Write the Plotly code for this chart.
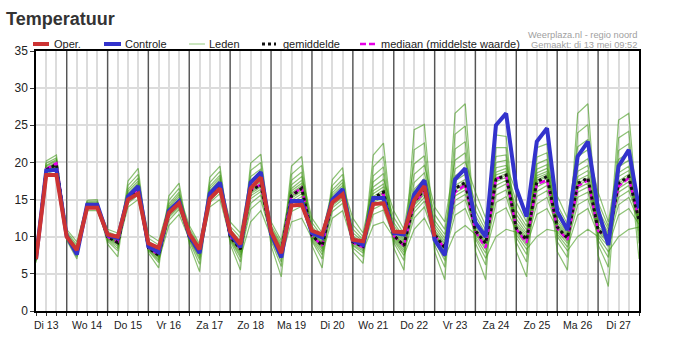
import pandas as pd
import plotly.graph_objects as go

# Tijdstappen van de pluim: elke 6 uur vanaf di 13 mei 06:00
tijden = pd.date_range("2025-05-13 06:00", periods=60, freq="6h")

dag_labels = ["Di 13", "Wo 14", "Do 15", "Vr 16", "Za 17", "Zo 18", "Ma 19", "Di 20",
              "Wo 21", "Do 22", "Vr 23", "Za 24", "Zo 25", "Ma 26", "Di 27"]
label_momenten = pd.date_range("2025-05-13 12:00", periods=len(dag_labels), freq="D")
dag_grenzen = pd.date_range("2025-05-14 00:00", periods=14, freq="D")

# Operationele run (10 dagen)
oper = [7.0, 18.3, 18.3, 10.0, 8.2, 13.9, 13.9, 10.3, 10.0, 15.0,
        15.8, 9.1, 8.5, 13.2, 14.5, 10.4, 8.3, 15.1, 16.5, 10.7,
        9.0, 16.5, 18.0, 10.7, 7.8, 14.2, 14.3, 10.8, 10.3, 14.6,
        15.7, 9.6, 9.4, 14.4, 14.5, 10.7, 10.6, 14.9, 16.8, 10.0]

# Controlerun
controle = [7.0, 18.9, 19.0, 10.1, 7.6, 14.3, 14.3, 10.2, 9.8, 15.4,
            16.8, 8.7, 7.9, 13.5, 14.8, 10.2, 7.8, 15.8, 17.3, 10.4,
            8.6, 17.3, 18.7, 10.4, 7.2, 14.8, 14.8, 10.5, 9.9, 15.0,
            16.4, 9.5, 8.9, 15.2, 15.2, 10.5, 10.3, 15.7, 17.6, 9.6,
            7.5, 17.7, 19.2, 11.9, 10.0, 25.0, 26.6, 16.5, 12.7, 22.8,
            24.6, 13.4, 10.9, 20.8, 22.8, 13.6, 8.9, 19.5, 21.7, 13.8]

gemiddelde = [7.0, 19.0, 19.7, 10.0, 7.8, 14.2, 14.2, 10.0, 9.2, 15.2,
              16.5, 8.5, 7.5, 13.3, 14.7, 10.0, 7.9, 15.5, 17.0, 10.0,
              8.3, 16.2, 17.0, 10.3, 8.0, 15.5, 16.5, 10.2, 8.8, 14.8,
              16.0, 9.3, 8.7, 15.2, 16.0, 10.2, 8.8, 14.8, 16.3, 10.3,
              8.5, 16.5, 17.3, 10.8, 9.1, 17.7, 18.3, 11.1, 9.6, 17.4,
              18.1, 11.3, 9.8, 17.2, 17.9, 10.9, 9.8, 17.2, 18.1, 12.2]

mediaan = [7.0, 19.1, 19.9, 10.0, 7.7, 14.2, 14.2, 10.0, 9.3, 15.2,
           16.4, 8.5, 7.6, 13.3, 14.6, 10.0, 8.0, 15.4, 16.9, 10.0,
           8.4, 16.3, 17.0, 10.2, 8.1, 15.6, 16.6, 10.1, 8.8, 14.8,
           15.9, 9.2, 8.6, 15.0, 15.8, 10.1, 8.8, 14.6, 16.0, 10.2,
           8.4, 16.0, 17.0, 10.7, 8.5, 17.8, 18.2, 11.0, 9.2, 17.1,
           17.6, 11.1, 9.6, 16.8, 17.6, 10.8, 10.0, 16.8, 17.9, 12.4]

# Ensembleleden: per tijdstap de waarde van elk van de 16 leden
leden_per_tijdstap = [
    [6.5, 6.7, 6.8, 6.9, 6.9, 7.0, 7.0, 7.0, 7.0, 7.1, 7.2, 7.3, 7.4, 7.5, 7.7, 8.0],
    [18.5, 18.7, 18.8, 18.9, 18.9, 19.0, 19.0, 19.0, 19.0, 19.1, 19.2, 19.3, 19.5, 19.6, 19.9, 20.2],
    [19.0, 19.3, 19.4, 19.5, 19.6, 19.6, 19.7, 19.7, 19.8, 19.8, 19.9, 20.0, 20.2, 20.4, 20.6, 21.0],
    [9.9, 9.9, 10.0, 10.0, 10.0, 10.0, 10.1, 10.2, 10.3, 10.4, 10.5, 10.7, 11.0, 9.5, 9.7, 9.8],
    [7.6, 7.7, 7.7, 7.8, 7.8, 7.9, 8.0, 8.1, 8.2, 8.4, 8.6, 8.9, 9.3, 7.0, 7.3, 7.5],
    [13.8, 13.9, 14.0, 14.1, 14.1, 14.2, 14.2, 14.2, 14.3, 14.3, 14.4, 14.5, 14.6, 14.7, 14.9, 13.5],
    [13.8, 13.9, 14.0, 14.1, 14.1, 14.2, 14.2, 14.2, 14.3, 14.3, 14.4, 14.5, 14.6, 14.8, 15.0, 13.5],
    [9.9, 10.0, 10.0, 10.0, 10.1, 10.2, 10.3, 10.4, 10.5, 10.7, 11.0, 9.0, 9.4, 9.6, 9.7, 9.8],
    [9.0, 9.1, 9.2, 9.3, 9.3, 9.4, 9.5, 9.7, 9.9, 10.1, 10.5, 7.3, 8.1, 8.4, 8.7, 8.9],
    [14.7, 14.9, 15.0, 15.1, 15.2, 15.2, 15.3, 15.4, 15.6, 15.8, 16.1, 16.4, 16.9, 17.5, 14.0, 14.5],
    [15.9, 16.1, 16.2, 16.4, 16.4, 16.5, 16.6, 16.8, 17.0, 17.2, 17.5, 17.9, 18.4, 19.2, 15.0, 15.6],
    [8.5, 8.5, 8.6, 8.7, 8.8, 9.0, 9.2, 9.4, 9.8, 10.3, 7.8, 8.1, 8.2, 8.3, 8.4, 8.4],
    [7.4, 7.5, 7.6, 7.7, 7.8, 8.0, 8.2, 8.5, 8.9, 9.4, 5.8, 6.5, 6.8, 7.0, 7.2, 7.3],
    [13.0, 13.1, 13.2, 13.3, 13.4, 13.5, 13.7, 13.9, 14.1, 14.4, 14.9, 15.5, 11.5, 12.2, 12.6, 12.8],
    [14.4, 14.5, 14.6, 14.7, 14.8, 15.0, 15.1, 15.4, 15.7, 16.0, 16.5, 17.2, 13.0, 13.7, 14.0, 14.2],
    [10.0, 10.1, 10.2, 10.3, 10.4, 10.6, 10.8, 11.1, 11.5, 9.0, 9.4, 9.6, 9.7, 9.8, 9.9, 10.0],
    [7.9, 7.9, 8.0, 8.1, 8.2, 8.3, 8.5, 8.7, 9.0, 5.3, 6.3, 6.9, 7.2, 7.5, 7.6, 7.8],
    [15.2, 15.4, 15.4, 15.5, 15.6, 15.8, 15.9, 16.2, 16.5, 16.8, 17.3, 18.0, 14.0, 14.6, 14.9, 15.1],
    [16.7, 16.8, 16.9, 17.0, 17.1, 17.3, 17.4, 17.7, 18.0, 18.3, 18.8, 19.5, 15.0, 15.8, 16.2, 16.5],
    [10.1, 10.2, 10.3, 10.5, 10.8, 11.0, 11.4, 12.0, 9.0, 9.4, 9.6, 9.7, 9.8, 9.9, 10.0, 10.0],
    [8.4, 8.5, 8.7, 8.9, 9.1, 9.4, 9.9, 10.5, 5.5, 6.6, 7.2, 7.5, 7.8, 8.0, 8.2, 8.3],
    [16.0, 16.2, 16.3, 16.6, 16.8, 17.2, 17.6, 18.1, 18.9, 19.9, 12.0, 13.7, 14.5, 15.1, 15.5, 15.8],
    [16.9, 17.0, 17.2, 17.4, 17.7, 18.1, 18.6, 19.1, 20.0, 21.1, 13.5, 14.9, 15.6, 16.1, 16.4, 16.7],
    [10.6, 10.7, 10.9, 11.2, 11.5, 12.0, 8.8, 9.4, 9.7, 9.9, 10.0, 10.2, 10.2, 10.3, 10.4, 10.5],
    [8.3, 8.4, 8.6, 8.8, 9.1, 9.5, 4.6, 6.0, 6.6, 7.1, 7.4, 7.7, 7.9, 8.0, 8.1, 8.2],
    [15.5, 15.7, 15.9, 16.2, 16.5, 17.0, 17.6, 18.4, 19.5, 12.0, 13.4, 14.1, 14.6, 14.9, 15.2, 15.4],
    [16.5, 16.7, 16.9, 17.2, 17.6, 18.1, 18.7, 19.6, 20.8, 12.5, 14.1, 14.9, 15.4, 15.8, 16.1, 16.3],
    [10.6, 10.8, 11.1, 11.4, 11.9, 12.5, 8.8, 9.4, 9.6, 9.8, 10.0, 10.1, 10.1, 10.2, 10.3, 10.4],
    [9.1, 9.2, 9.4, 9.7, 10.0, 10.5, 5.8, 7.0, 7.6, 8.0, 8.3, 8.5, 8.7, 8.8, 8.9, 9.0],
    [14.9, 15.1, 15.3, 15.6, 15.9, 16.3, 16.9, 17.7, 12.5, 13.4, 13.9, 14.2, 14.4, 14.6, 14.7, 14.8],
    [16.1, 16.3, 16.6, 16.9, 17.3, 17.7, 18.4, 19.3, 13.5, 14.5, 15.0, 15.3, 15.6, 15.8, 15.9, 16.0],
    [10.5, 11.0, 11.6, 12.5, 8.0, 8.5, 8.8, 8.9, 9.1, 9.2, 9.2, 9.3, 9.4, 9.6, 9.8, 10.1],
    [9.4, 9.6, 10.0, 10.5, 6.4, 7.3, 7.8, 8.1, 8.3, 8.5, 8.6, 8.7, 8.8, 8.9, 9.0, 9.2],
    [15.8, 16.2, 16.7, 17.4, 18.2, 19.4, 21.0, 11.5, 13.0, 13.7, 14.2, 14.6, 14.8, 15.1, 15.2, 15.4],
    [16.7, 17.1, 17.7, 18.5, 19.4, 20.8, 22.6, 12.0, 13.6, 14.4, 14.9, 15.3, 15.6, 15.8, 16.0, 16.3],
    [11.9, 12.6, 13.5, 8.5, 9.2, 9.5, 9.7, 9.9, 10.0, 10.1, 10.2, 10.3, 10.5, 10.8, 11.1, 11.5],
    [9.9, 10.4, 11.0, 5.5, 6.8, 7.5, 7.9, 8.2, 8.5, 8.7, 8.8, 8.9, 9.0, 9.2, 9.4, 9.6],
    [17.3, 18.4, 19.8, 21.7, 24.4, 11.0, 12.5, 13.3, 13.8, 14.2, 14.4, 14.6, 14.8, 15.2, 15.8, 16.4],
    [18.6, 19.6, 20.9, 22.6, 25.1, 12.5, 14.0, 14.8, 15.3, 15.7, 15.9, 16.1, 16.3, 16.7, 17.2, 17.8],
    [13.0, 14.0, 8.0, 8.9, 9.4, 9.7, 9.9, 10.1, 10.2, 10.3, 10.4, 10.7, 10.9, 11.3, 11.7, 12.2],
    [11.0, 12.0, 4.2, 5.9, 6.8, 7.3, 7.8, 8.1, 8.3, 8.5, 8.6, 8.9, 9.1, 9.4, 9.8, 10.3],
    [19.1, 20.3, 21.8, 23.8, 26.6, 10.5, 12.9, 14.1, 14.9, 15.5, 15.9, 16.3, 16.5, 16.9, 17.5, 18.2],
    [20.1, 21.3, 22.8, 24.9, 27.9, 11.5, 13.8, 15.0, 15.7, 16.3, 16.7, 17.1, 17.3, 17.7, 18.4, 19.1],
    [16.0, 8.0, 9.1, 9.7, 10.0, 10.3, 10.5, 10.7, 10.8, 11.0, 11.3, 11.7, 12.2, 12.8, 13.5, 14.5],
    [12.5, 4.2, 6.2, 7.1, 7.8, 8.3, 8.6, 8.9, 9.1, 9.2, 9.4, 9.7, 10.0, 10.4, 10.9, 11.5],
    [20.8, 22.0, 23.7, 10.0, 13.1, 14.6, 15.6, 16.4, 16.9, 17.4, 17.7, 17.9, 18.3, 18.7, 19.3, 20.0],
    [21.0, 22.0, 23.5, 11.0, 13.9, 15.4, 16.3, 17.1, 17.6, 18.0, 18.3, 18.5, 18.8, 19.2, 19.6, 20.3],
    [9.2, 9.9, 10.3, 10.6, 10.8, 11.0, 11.1, 11.3, 11.6, 11.9, 12.4, 13.0, 13.6, 14.6, 16.0, 8.0],
    [6.6, 7.6, 8.3, 8.8, 9.1, 9.4, 9.6, 9.7, 9.9, 10.2, 10.5, 10.9, 11.4, 12.0, 13.0, 4.6],
    [20.7, 22.0, 10.0, 13.0, 14.4, 15.4, 16.1, 16.7, 17.1, 17.4, 17.6, 17.9, 18.2, 18.6, 19.1, 19.8],
    [21.3, 22.5, 11.0, 13.8, 15.3, 16.2, 16.9, 17.4, 17.8, 18.1, 18.3, 18.5, 18.8, 19.2, 19.7, 20.4],
    [10.0, 10.4, 10.7, 11.0, 11.2, 11.3, 11.5, 11.7, 12.0, 12.4, 12.9, 13.5, 14.3, 15.5, 8.0, 9.3],
    [8.1, 8.6, 9.1, 9.4, 9.6, 9.8, 9.9, 10.1, 10.3, 10.5, 10.8, 11.2, 11.7, 12.5, 5.5, 7.2],
    [10.0, 12.9, 14.3, 15.3, 16.0, 16.5, 16.9, 17.2, 17.6, 18.1, 18.8, 19.6, 20.8, 22.1, 24.0, 26.6],
    [11.0, 13.8, 15.1, 16.0, 16.7, 17.2, 17.6, 17.9, 18.3, 18.9, 19.6, 20.5, 21.7, 23.1, 25.1, 27.9],
    [10.0, 10.3, 10.6, 10.8, 10.9, 11.1, 11.4, 11.8, 12.2, 12.8, 13.6, 14.6, 16.0, 7.5, 8.9, 9.5],
    [8.0, 8.7, 9.2, 9.5, 9.8, 9.9, 10.0, 10.2, 10.4, 10.6, 11.0, 11.4, 12.0, 3.3, 5.9, 7.2],
    [10.0, 12.9, 14.3, 15.3, 16.0, 16.5, 16.9, 17.2, 17.5, 18.1, 18.6, 19.4, 20.4, 21.6, 23.3, 25.7],
    [11.0, 13.8, 15.3, 16.2, 16.9, 17.4, 17.8, 18.1, 18.4, 18.9, 19.5, 20.3, 21.3, 22.5, 24.2, 26.6],
    [11.3, 11.7, 12.0, 12.2, 12.3, 12.4, 12.6, 12.8, 13.0, 13.4, 13.9, 14.5, 7.0, 9.1, 10.1, 10.8],
]

KLEUR_OPER = "#cc3333"
KLEUR_CONTROLE = "#3333cc"
KLEUR_LID = "rgba(58,150,16,0.58)"
KLEUR_LID_LEGENDA = "#a6d492"
KLEUR_MEDIAAN = "#e600e6"
FONT = "Liberation Sans, Arial, sans-serif"

W, H = 677, 349
ML, MR, MT, MB = 36, 38, 51, 38
PW, PH = W - ML - MR, H - MT - MB


def px_x(px):
    return (px - ML) / PW


def px_y(py):
    return (H - MB - py) / PH


fig = go.Figure()

n_leden = len(leden_per_tijdstap[0])
for j in range(n_leden):
    fig.add_trace(go.Scatter(
        x=tijden, y=[rij[j] for rij in leden_per_tijdstap], mode="lines",
        line=dict(color=KLEUR_LID, width=1.2), hoverinfo="skip", showlegend=False))

fig.add_trace(go.Scatter(x=tijden, y=mediaan, mode="lines",
                         line=dict(color=KLEUR_MEDIAAN, width=2.5, dash="6px,3px"),
                         showlegend=False))
fig.add_trace(go.Scatter(x=tijden, y=gemiddelde, mode="lines",
                         line=dict(color="#111111", width=3, dash="dot"),
                         showlegend=False))
fig.add_trace(go.Scatter(x=tijden, y=controle, mode="lines",
                         line=dict(color=KLEUR_CONTROLE, width=4),
                         showlegend=False))
fig.add_trace(go.Scatter(x=tijden[:len(oper)], y=oper, mode="lines",
                         line=dict(color=KLEUR_OPER, width=4),
                         showlegend=False))

# Donkere lijnen op middernacht
for d in dag_grenzen:
    fig.add_shape(type="line", xref="x", yref="y", x0=d, x1=d, y0=0, y1=35,
                  line=dict(color="#555555", width=1.3), layer="between")

# Legenda boven de grafiek
legenda = [
    ("Oper.", dict(color=KLEUR_OPER, width=4), 33, 49, 52),
    ("Controle", dict(color=KLEUR_CONTROLE, width=4), 104, 121, 123),
    ("Leden", dict(color=KLEUR_LID_LEGENDA, width=1.2), 189, 205, 207),
    ("gemiddelde", dict(color="#111111", width=3, dash="dot"), 262, 276, 281),
    ("mediaan (middelste waarde)", dict(color=KLEUR_MEDIAAN, width=2.5, dash="6px,3px"), 360, 376, 379),
]
for tekst, lijn, x0, x1, xt in legenda:
    fig.add_shape(type="line", xref="paper", yref="paper",
                  x0=px_x(x0), x1=px_x(x1), y0=px_y(44), y1=px_y(44), line=lijn)
    fig.add_annotation(text=tekst, xref="paper", yref="paper", x=px_x(xt), y=px_y(44),
                       xanchor="left", yanchor="middle", showarrow=False,
                       font=dict(family=FONT, size=11, color="#222222"))

fig.add_annotation(text="<b>Temperatuur</b>", xref="paper", yref="paper",
                   x=px_x(4), y=px_y(18.5), xanchor="left", yanchor="middle",
                   showarrow=False, font=dict(family=FONT, size=18, color="#333333"))
fig.add_annotation(text="Weerplaza.nl - regio noord", xref="paper", yref="paper",
                   x=px_x(639), y=px_y(34.5), xanchor="right", yanchor="middle",
                   showarrow=False, font=dict(family=FONT, size=9.3, color="#a0a0a0"))
fig.add_annotation(text="Gemaakt: di 13 mei 09:52", xref="paper", yref="paper",
                   x=px_x(639), y=px_y(44.5), xanchor="right", yanchor="middle",
                   showarrow=False, font=dict(family=FONT, size=9.3, color="#a0a0a0"))

fig.update_layout(
    width=W, height=H,
    margin=dict(l=ML, r=MR, t=MT, b=MB),
    paper_bgcolor="white", plot_bgcolor="white",
    showlegend=False,
    font=dict(family=FONT, color="#222222"),
    xaxis=dict(
        type="date", range=[tijden[0], tijden[-1]],
        tickmode="array", tickvals=label_momenten, ticktext=dag_labels,
        tickfont=dict(family=FONT, size=10.5, color="#222222"),
        ticks="outside", ticklen=3, tickcolor="#333333",
        showgrid=True, gridcolor="#dcdcdc", gridwidth=1.5,
        minor=dict(tick0="2025-05-13 00:00", dtick=6 * 3600 * 1000,
                   ticks="outside", ticklen=3, tickcolor="#333333",
                   showgrid=True, gridcolor="#dcdcdc", gridwidth=1.5),
        showline=True, linecolor="black", linewidth=2, mirror=True,
        zeroline=False,
    ),
    yaxis=dict(
        range=[0, 35], tickmode="linear", tick0=0, dtick=5,
        tickfont=dict(family=FONT, size=12, color="#222222"),
        ticks="outside", ticklen=4, tickcolor="#333333",
        showgrid=True, gridcolor="#dcdcdc", gridwidth=1.5,
        showline=True, linecolor="black", linewidth=1.5, mirror=True,
        zeroline=False,
    ),
)

fig.write_html("out.html")
